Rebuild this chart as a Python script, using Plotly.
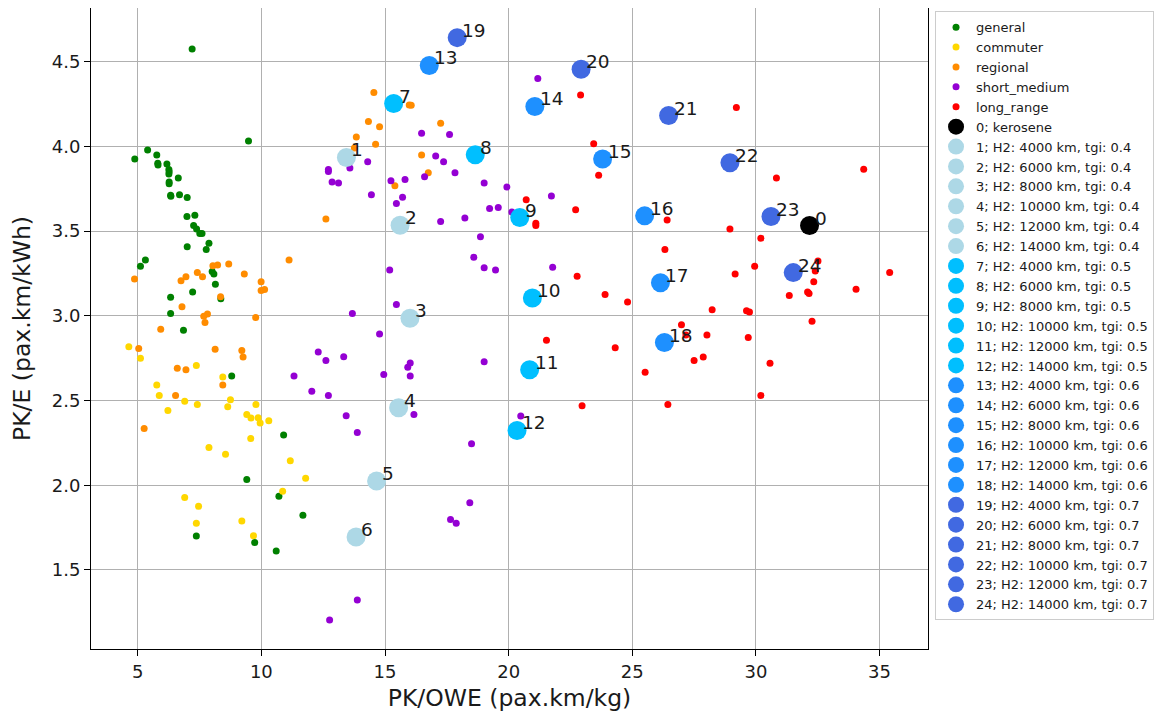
import plotly.graph_objects as go

# ---------------- data ----------------
general_x = [7.20, 9.48, 5.40, 4.88, 5.77, 5.81, 5.82, 6.18, 6.26, 6.27, 6.26, 6.64, 6.27, 6.27,
             6.33, 6.34, 6.69, 7.00, 6.99, 7.31, 7.26, 7.38, 7.51, 7.60, 7.88, 7.77, 7.00, 5.31,
             5.11, 8.01, 8.08, 8.14, 7.22, 6.33, 8.36, 6.33, 6.85, 8.80, 10.90, 9.41, 10.71, 11.68,
             7.37, 9.73, 10.60]
general_y = [4.575, 4.032, 3.979, 3.926, 3.949, 3.900, 3.890, 3.896, 3.864, 3.850, 3.837, 3.813, 3.790, 3.780,
             3.712, 3.706, 3.714, 3.699, 3.586, 3.594, 3.533, 3.513, 3.486, 3.486, 3.428, 3.391, 3.407, 3.330,
             3.292, 3.261, 3.247, 3.186, 3.140, 3.110, 3.100, 3.014, 2.915, 2.645, 2.297, 2.033, 1.934, 1.822,
             1.700, 1.662, 1.611]

commuter_x = [4.64, 5.11, 7.37, 8.44, 5.77, 5.87, 6.90, 7.41, 8.75, 8.64, 9.78, 6.22, 9.41, 9.58,
              9.87, 9.95, 10.30, 9.57, 7.88, 8.55, 11.17, 11.79, 10.86, 6.90, 7.46, 7.37, 9.21, 9.68]
commuter_y = [2.818, 2.749, 2.706, 2.639, 2.591, 2.530, 2.495, 2.477, 2.505, 2.463, 2.477, 2.441, 2.418, 2.396,
              2.398, 2.367, 2.380, 2.276, 2.222, 2.183, 2.145, 2.041, 1.964, 1.928, 1.875, 1.776, 1.788, 1.701]

regional_x = [14.55, 14.33, 13.84, 13.76, 12.61, 11.12, 8.68, 9.31, 8.04, 8.23, 7.41, 7.62, 6.95, 6.75,
              4.87, 9.99, 9.99, 10.13, 8.35, 6.79, 7.67, 7.82, 7.72, 9.77, 5.93, 5.04, 8.13, 9.21,
              9.26, 6.60, 6.95, 8.44, 6.53, 5.26, 15.98, 16.06, 14.78, 14.62, 17.25, 16.48, 16.75, 15.40]
regional_y = [4.318, 4.147, 4.056, 3.991, 3.572, 3.330, 3.306, 3.247, 3.296, 3.300, 3.255, 3.231, 3.231, 3.207,
              3.217, 3.201, 3.150, 3.155, 3.113, 3.053, 2.998, 3.010, 2.960, 2.990, 2.921, 2.807, 2.803, 2.795,
              2.757, 2.690, 2.682, 2.591, 2.530, 2.335, 4.245, 4.243, 4.116, 4.012, 4.137, 3.949, 3.845, 3.768]

short_medium_x = [12.71, 12.71, 13.58, 14.30, 12.86, 13.12, 14.45, 13.68, 12.30, 12.61, 13.33, 11.32, 12.04,
                  12.71, 13.43, 13.88, 13.88, 12.76, 21.18, 16.48, 17.61, 17.05, 17.37, 17.83, 16.60, 15.24,
                  15.81, 19.01, 19.93, 15.71, 15.46, 21.73, 19.23, 19.58, 20.13, 17.25, 18.23, 18.86, 18.59,
                  19.01, 19.47, 15.19, 21.78, 15.46, 14.78, 16.02, 15.92, 14.95, 16.02, 19.01, 16.17, 20.49,
                  18.50, 18.43, 17.65, 17.88]
short_medium_y = [3.864, 3.852, 3.872, 3.910, 3.790, 3.784, 3.714, 3.014, 2.787, 2.736, 2.758, 2.645, 2.554,
                  2.530, 2.410, 2.311, 1.322, 1.204, 4.401, 4.078, 4.070, 3.943, 3.910, 3.845, 3.821, 3.797,
                  3.805, 3.784, 3.760, 3.700, 3.663, 3.707, 3.634, 3.640, 3.612, 3.557, 3.578, 3.466, 3.346,
                  3.284, 3.270, 3.270, 3.286, 3.067, 2.893, 2.722, 2.696, 2.653, 2.645, 2.728, 2.418, 2.408,
                  2.244, 1.897, 1.798, 1.776]

long_range_x = [22.91, 23.44, 23.64, 20.71, 21.10, 21.10, 22.71, 22.77, 23.90, 24.81, 21.53, 24.31, 25.52,
                22.97, 29.21, 34.36, 30.83, 26.41, 28.95, 30.20, 26.32, 29.95, 29.16, 32.51, 32.40, 32.34,
                32.09, 32.15, 31.35, 34.05, 35.41, 28.23, 29.62, 29.74, 32.27, 26.99, 27.17, 28.02, 29.69,
                27.87, 27.50, 30.57, 30.20, 26.44]
long_range_y = [4.303, 4.016, 3.829, 3.685, 3.547, 3.533, 3.626, 3.233, 3.126, 3.081, 2.856, 2.811, 2.666,
                2.469, 4.230, 3.865, 3.813, 3.565, 3.513, 3.458, 3.391, 3.292, 3.247, 3.324, 3.265, 3.201,
                3.140, 3.132, 3.120, 3.156, 3.255, 3.036, 3.030, 3.022, 2.968, 2.947, 2.886, 2.886, 2.872,
                2.757, 2.736, 2.720, 2.530, 2.477]

# design points 0..24
design_labels = ["0; kerosene"] + [
    f"{i}; H2: {r} km, tgi: {t}"
    for i, (t, r) in enumerate(
        [(t, r) for t in ("0.4", "0.5", "0.6", "0.7") for r in (4000, 6000, 8000, 10000, 12000, 14000)],
        start=1)
]
design_x = [32.17, 13.44, 15.61, 16.01, 15.55, 14.66, 13.83,
            15.35, 18.65, 20.45, 20.96, 20.85, 20.34,
            16.79, 21.06, 23.80, 25.50, 26.14, 26.30,
            17.92, 22.93, 26.47, 28.95, 30.61, 31.51]
design_y = [3.533, 3.935, 3.535, 2.985, 2.457, 2.025, 1.694,
            4.253, 3.951, 3.580, 3.105, 2.682, 2.323,
            4.478, 4.236, 3.926, 3.590, 3.195, 2.842,
            4.642, 4.455, 4.182, 3.904, 3.586, 3.255]
design_colors = ["black"] + ["#ADD8E6"] * 6 + ["#00BFFF"] * 6 + ["#1E90FF"] * 6 + ["#4169E1"] * 6

x_ticks = [5, 10, 15, 20, 25, 30, 35]
y_ticks = [1.5, 2.0, 2.5, 3.0, 3.5, 4.0, 4.5]

FONT = "DejaVu Sans"
TXT = "#1a1a1a"

fig = go.Figure()

cats = [
    ("general", general_x, general_y, "#008000"),
    ("commuter", commuter_x, commuter_y, "#FFD700"),
    ("regional", regional_x, regional_y, "#FF8C00"),
    ("short_medium", short_medium_x, short_medium_y, "#9400D3"),
    ("long_range", long_range_x, long_range_y, "#FF0000"),
]
for name, xs, ys, col in cats:
    fig.add_trace(go.Scatter(x=xs, y=ys, mode="markers", name=name,
                             marker=dict(color=col, size=7, line=dict(width=0))))

for i in range(len(design_x)):
    fig.add_trace(go.Scatter(x=[design_x[i]], y=[design_y[i]], mode="markers",
                             name=design_labels[i],
                             marker=dict(color=design_colors[i], size=19, line=dict(width=0))))
    fig.add_annotation(x=design_x[i], y=design_y[i], text=str(i), showarrow=False,
                       xanchor="left", yanchor="bottom", xshift=3, yshift=-5,
                       font=dict(family=FONT, size=18.5, color=TXT))

axis_common = dict(
    showgrid=True, gridcolor="#b0b0b0", gridwidth=1, zeroline=False,
    showline=True, mirror=True, linecolor="#000000", linewidth=1,
    ticks="outside", ticklen=6, tickwidth=1, tickcolor="#000000",
    tickfont=dict(family=FONT, size=18, color=TXT),
)

# the page adds an 8px body margin, so the figure is sized/offset to compensate
fig.update_layout(
    width=1166, height=707,
    margin=dict(l=83, r=246, t=0, b=66),
    paper_bgcolor="white", plot_bgcolor="white",
    font=dict(family=FONT, color=TXT),
    xaxis=dict(range=[3.11, 36.96], tickvals=x_ticks,
               title=dict(text="PK/OWE (pax.km/kg)", font=dict(family=FONT, size=23.5, color=TXT), standoff=8),
               **axis_common),
    yaxis=dict(range=[1.033, 4.817], tickvals=y_ticks, tickformat=".1f",
               title=dict(text="PK/E (pax.km/kWh)", font=dict(family=FONT, size=23.5, color=TXT), standoff=18),
               **axis_common),
    legend=dict(x=1.0084, xanchor="left", y=0.995, yanchor="top",
                bgcolor="white", bordercolor="#cccccc", borderwidth=1,
                entrywidth=192, entrywidthmode="pixels",
                font=dict(family=FONT, size=13, color=TXT), tracegroupgap=0),
    showlegend=True,
)

fig.write_html("out.html")
